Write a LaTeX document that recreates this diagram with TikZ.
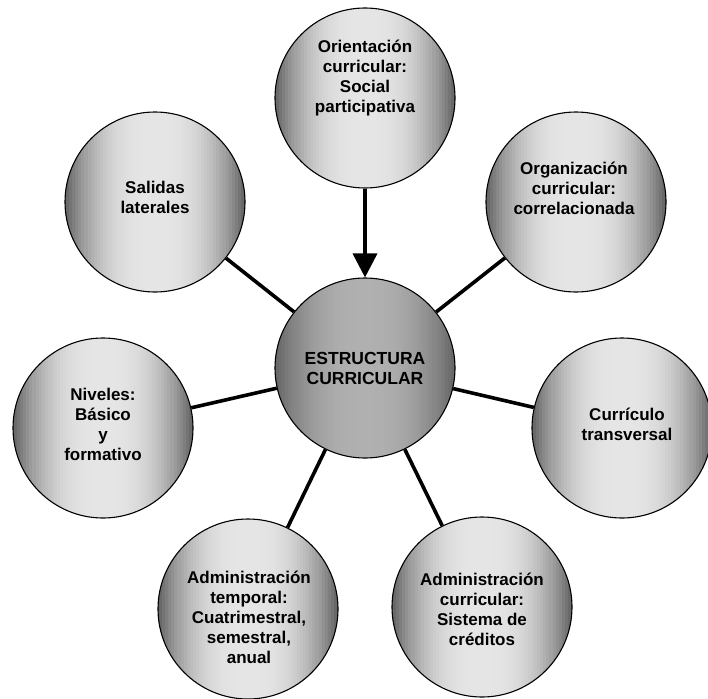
\documentclass[tikz,border=0pt]{standalone}
\usepackage{fontspec}
\setmainfont{Liberation Sans}
\usetikzlibrary{arrows.meta}
\newcommand{\gradfill}[3]{% base, amplitude, exponent
  \begin{scope}[shift={(path picture bounding box.center)}, rotate=45]
  \foreach \i in {0,...,59}{
    \pgfmathsetmacro\tt{(\i+0.5)/30-1}
    \pgfmathsetmacro\pp{#1+#2*abs(\tt)^#3}
    \pgfmathsetmacro\xa{(\i/30-1)*92}
    \pgfmathsetmacro\xb{((\i+1)/30-1)*92+0.4}
    \fill[black!\pp] (\xa pt,-92pt) rectangle (\xb pt,92pt);
  }
  \end{scope}}
\tikzset{
  bub/.style={circle, draw=black, line width=1.1pt, minimum size=180pt, inner sep=0pt,
    path picture={\gradfill{10}{56}{2.6}}},
  hub/.style={circle, draw=black, line width=1.1pt, minimum size=180pt, inner sep=0pt,
    path picture={\gradfill{31}{32}{2.4}}},
  txt/.style={align=center, font=\fontsize{17}{20}\selectfont\bfseries, inner sep=0pt},
  htxt/.style={align=center, font=\fontsize{17.5}{20}\selectfont\bfseries, inner sep=0pt},
  link/.style={line width=3.6pt, black},
  arr/.style={line width=3.6pt, black, -{Triangle[width=24pt,length=24pt]}}
}
\begin{document}
\begin{tikzpicture}[x=1pt,y=-1pt]
\useasboundingbox (0,0) rectangle (708,698);
% circles
\node[hub] (c) at (365,368) {};
\node[bub] (o) at (365,98) {};
\node[bub] (g) at (576,202) {};
\node[bub] (s) at (155,202) {};
\node[bub] (n) at (103,428) {};
\node[bub] (t) at (622,428) {};
\node[bub] (at) at (248,609) {};
\node[bub] (ac) at (482,607) {};
% connectors
\draw[link] (s) -- (c);
\draw[link] (g) -- (c);
\draw[link] (n) -- (c);
\draw[link] (t) -- (c);
\draw[link] (at) -- (c);
\draw[link] (ac) -- (c);
\draw[arr] (o.south) -- (c.north);
% texts
\node[htxt] (ct) at (365,368) {ESTRUCTURA\\CURRICULAR};
\node[txt] (ot) at (365,78) {Orientación\\curricular:\\Social\\participativa};
\node[txt] (gt) at (574,188) {Organización\\curricular:\\correlacionada};
\node[txt] (st) at (155,197) {Salidas\\laterales};
\node[txt] (nt) at (103,424) {Niveles:\\Básico\\y\\formativo};
\node[txt] (tt) at (627,424) {Currículo\\transversal};
\node[txt] (att) at (249,617) {Administración\\temporal:\\Cuatrimestral,\\semestral,\\anual};
\node[txt] (act) at (482,609) {Administración\\curricular:\\Sistema de\\créditos};
\end{tikzpicture}
\end{document}
